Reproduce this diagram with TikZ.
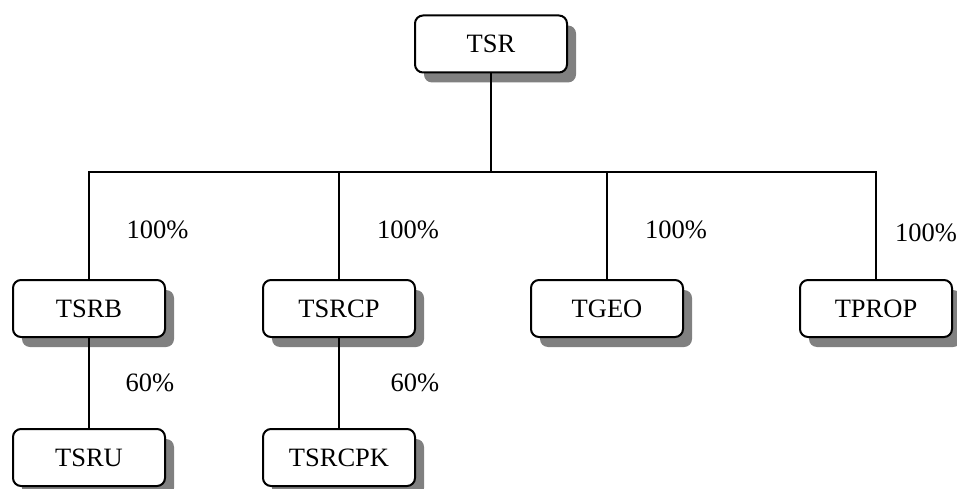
\documentclass[tikz,border=0pt]{standalone}
\usepackage{fontspec}
\setmainfont{Liberation Serif}
\usepackage{tikz}
\usetikzlibrary{positioning,shadows}

\begin{document}
\begin{tikzpicture}[
  x=1pt, y=1pt,
  font=\fontsize{26.5}{30}\selectfont,
  entity/.style={draw, rounded corners=8pt, fill=white, line width=2pt,
    minimum width=152pt, minimum height=57pt, inner sep=2pt,
    drop shadow={shadow xshift=9pt, shadow yshift=-10pt, fill=black!50, opacity=1}},
  link/.style={line width=1.6pt},
  share/.style={inner sep=0pt}
]
\useasboundingbox (0,0) rectangle (957,488);
% --- top of the group
\node[entity] (tsr) at (491,444) {TSR};
% --- subsidiaries (second row)
\node[entity] (tsrb) at (89,179.5) {TSRB};
\node[entity, right=96pt of tsrb] (tsrcp) {TSRCP};
\node[entity, right=114pt of tsrcp] (tgeo) {TGEO};
\node[entity, right=115pt of tgeo] (tprop) {TPROP};
% --- third row
\node[entity, below=90pt of tsrb] (tsru) {TSRU};
\node[entity, below=90pt of tsrcp] (tsrcpk) {TSRCPK};

% --- connectors
\coordinate (bar) at (tsr |- 0,316);
\draw[link] (tsr.south) -- (bar);
\draw[link] (tsrb.north) |- (tprop |- bar) -- (tprop.north);
\foreach \n in {tsrcp,tgeo}
  \draw[link] (\n.north) -- (\n |- bar);
\draw[link] (tsrb.south) -- (tsru.north);
\draw[link] (tsrcp.south) -- (tsrcpk.north);

% --- holdings
\node[share] (s1) at (157.5,258) {100\%};
\node[share] (s2) at (408,258) {100\%};
\node[share] (s3) at (676,258) {100\%};
\node[share] (s4) at (926,255) {100\%};
\node[share] (s5) at (150,105) {60\%};
\node[share] (s6) at (415,105) {60\%};
\end{tikzpicture}
\end{document}
